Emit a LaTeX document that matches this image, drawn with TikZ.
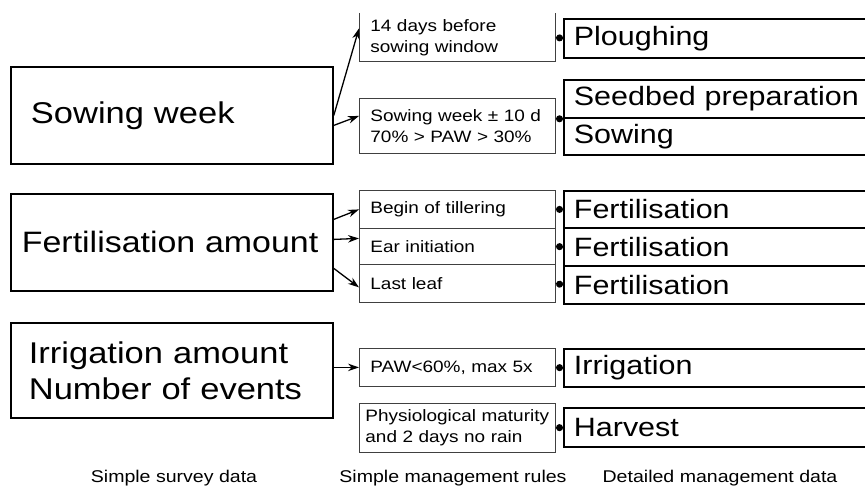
\documentclass[tikz,border=0pt]{standalone}
\usepackage{fontspec}
\setmainfont{Liberation Sans}[FakeStretch=1.15]
\usetikzlibrary{arrows.meta,calc,positioning}
\tikzset{
  vector/.style={-{Stealth[length=11pt,width=7.5pt]},line width=1.3pt},
  dotlink/.style={-{Circle[length=7pt]},line width=1.1pt},
  ruleline/.style={draw=black!75,line width=0.8pt},
  surveynode/.style={draw,line width=1.8pt,anchor=north west,inner xsep=20pt,inner ysep=0pt,text width=282pt,align=left,font=\fontsize{30}{36}\selectfont},
  rulenode/.style={ruleline,anchor=north west,inner xsep=11pt,inner ysep=0pt,text width=174pt,align=left,font=\fontsize{16.5}{21}\selectfont},
  smallrule/.style={rulenode,font=\fontsize{16.5}{18}\selectfont},
  datanode/.style={draw,line width=1.8pt,anchor=north west,inner xsep=10pt,inner ysep=0pt,text width=320pt,align=left,font=\fontsize{26.5}{30}\selectfont},
  coltitle/.style={font=\fontsize{17}{20}\selectfont}
}
\begin{document}
\begin{tikzpicture}[x=1pt,y=-1pt]
  \useasboundingbox (0,0) rectangle (865,486);
  \clip (0,0) rectangle (865,486);
  % simple survey data
  \node[surveynode,minimum height=97pt] (sowing) at (10,66) {Sowing week};
  \node[surveynode,minimum height=97pt,inner xsep=11pt,text width=300pt,font=\fontsize{29.5}{36}\selectfont] (fert) at (10,193) {Fertilisation amount};
  \node[surveynode,minimum height=95pt,inner xsep=18pt,text width=286pt] (irr) at (10,322) {Irrigation amount\\Number of events};
  % simple management rules
  \node[rulenode,draw=none,minimum height=48pt] (rplough) at (359,13) {14 days before\\sowing window};
  \draw[ruleline] (rplough.north west) -- (rplough.south west) -- (rplough.south east) -- (rplough.north east);
  \node[rulenode,minimum height=55pt] (rsow) at (359,98) {Sowing week ± 10 d\\70\% > PAW > 30\%};
  \node[smallrule,minimum height=38pt] (rtill) at (359,190) {Begin of tillering};
  \node[smallrule,minimum height=36pt] (rear) at (359,228) {Ear initiation};
  \node[smallrule,minimum height=38pt] (rleaf) at (359,264) {Last leaf};
  \node[smallrule,minimum height=38pt] (rirr) at (359,348) {PAW<60\%, max 5x};
  \node[rulenode,minimum height=49pt,inner xsep=6pt,text width=184pt] (rharv) at (359,403) {Physiological maturity\\and 2 days no rain};
  % detailed management data
  \node[datanode,minimum height=39pt] (plough) at (563,18) {Ploughing};
  \node[datanode,minimum height=38pt] (seedbed) at (563,79) {Seedbed preparation};
  \node[datanode,minimum height=37pt] (sow) at (563,117) {Sowing};
  \node[datanode,minimum height=37pt] (fert1) at (563,190) {Fertilisation};
  \node[datanode,minimum height=38pt] (fert2) at (563,227) {Fertilisation};
  \node[datanode,minimum height=38pt] (fert3) at (563,265) {Fertilisation};
  \node[datanode,minimum height=38pt] (irrig) at (563,348) {Irrigation};
  \node[datanode,minimum height=39pt] (harvest) at (563,407) {Harvest};
  % survey -> rules
  \draw[vector] (sowing.east) -- ($(rplough.west)+(0,-9)$);
  \draw[vector] ($(sowing.east)+(0,10)$) -- ($(rsow.west)+(0,-10)$);
  \draw[vector] ($(fert.east)+(0,-23)$) -- (rtill.west);
  \draw[vector] ($(fert.east)+(0,-3)$) -- ($(rear.west)+(0,-8)$);
  \draw[vector] ($(fert.east)+(0,26)$) -- ($(rleaf.west)+(0,4)$);
  \draw[vector] (irr.east |- rirr.west) -- (rirr.west);
  % rules -> data
  \draw[dotlink] (rplough.east) -- (plough.west);
  \draw[dotlink] (rsow.east |- seedbed.south west) -- (seedbed.south west);
  \draw[dotlink] (rtill.east) -- (fert1.west);
  \draw[dotlink] (rear.east) -- (fert2.west);
  \draw[dotlink] (rleaf.east) -- (fert3.west);
  \draw[dotlink] (rirr.east) -- (irrig.west);
  \draw[dotlink] (rharv.east) -- (harvest.west);
  % column titles
  \node[coltitle] (survey) at (174,478) {Simple survey data};
  \node[coltitle] (rules) at (453,478) {Simple management rules};
  \node[coltitle] (details) at (720,478) {Detailed management data};
\end{tikzpicture}
\end{document}
